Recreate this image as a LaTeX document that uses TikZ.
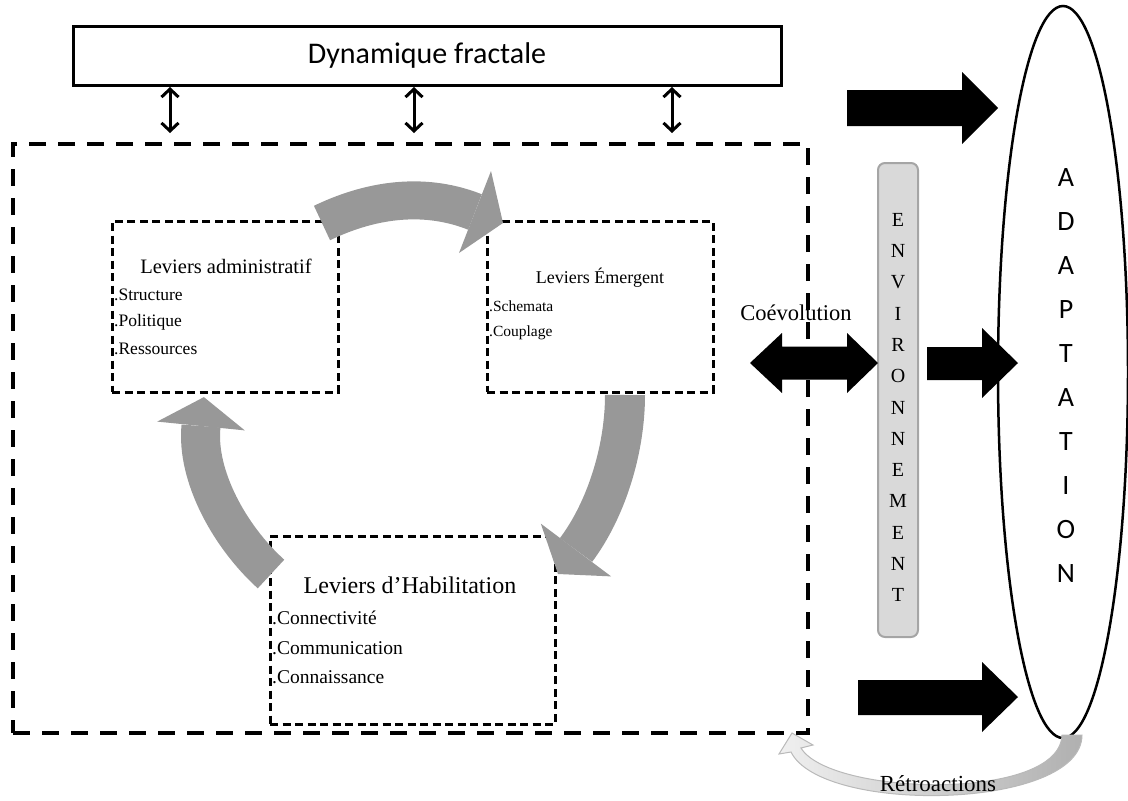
\documentclass[tikz,border=0pt]{standalone}
\usepackage{fontspec}
\setmainfont{Liberation Serif}
\newfontfamily\calibfont{Carlito}
\usetikzlibrary{arrows.meta,shapes.geometric}
\definecolor{bandgray}{RGB}{152,152,152}
\definecolor{envfill}{RGB}{217,217,217}
\definecolor{envdraw}{RGB}{165,165,165}
\newcommand\fsz[1]{\fontsize{#1}{#1}\selectfont}

\begin{document}
\begin{tikzpicture}[x=1pt,y=-1pt,
  outerbox/.style={draw, line width=4.5pt, dash pattern=on 17pt off 12pt,
    inner sep=0pt, minimum width=795pt, minimum height=589pt},
  leverbox/.style={draw, fill=white, line width=3pt, dash pattern=on 8pt off 4.5pt,
    inner sep=0pt},
  fractbox/.style={draw, line width=3pt, inner sep=0pt,
    minimum width=708pt, minimum height=59pt},
  envbox/.style={draw=envdraw, fill=envfill, line width=2pt, rounded corners=7pt,
    inner sep=0pt, minimum width=40pt, minimum height=474pt},
  adaptell/.style={ellipse, draw, line width=2.5pt, inner sep=0pt,
    minimum width=130pt, minimum height=732pt},
  item/.style={anchor=west, inner sep=0pt},
  title/.style={inner sep=0pt},
  letter/.style={inner sep=0pt},
  dblarrow/.style={line width=3pt,
    {Straight Barb[length=8pt,width=17pt]}-{Straight Barb[length=8pt,width=17pt]}},
  band/.style={draw=bandgray, line cap=butt},
  bandhead/.style={fill=bandgray},
  blockarrow/.style={fill=black}
]
\useasboundingbox (0,0) rectangle (1128,801);

% ---- top box and its links
\node[fractbox] (fract) at (427,55.5) {\calibfont\fsz{30}Dynamique fractale};

% ---- organisation frame
\node[outerbox] (outer) at (410.5,438.5) {};

\foreach \xx [count=\i] in {170,414,672}{
  \coordinate (up\i) at (\xx,87);
  \coordinate (dn\i) at (\xx,133);
  \draw[dblarrow] (up\i) -- (dn\i);
}

% ---- the three levers
\node[leverbox, minimum width=226pt, minimum height=171pt] (adm) at (225,306.5) {};
\node[title, font=\fsz{20.5}] (admT) at (226,266) {Leviers administratif};
\node[item, font=\fsz{17.5}] (adm1) at (114,295) {.Structure};
\node[item, font=\fsz{17.5}] (adm2) at (114,322) {.Politique};
\node[item, font=\fsz{17.5}] (adm3) at (114,349) {.Ressources};

\node[leverbox, minimum width=226pt, minimum height=171pt] (emg) at (600,306.5) {};
\node[title, font=\fsz{18}] (emgT) at (600,278) {Leviers Émergent};
\node[item, font=\fsz{15.5}] (emg1) at (489,306) {.Schemata};
\node[item, font=\fsz{15.5}] (emg2) at (489,333) {.Couplage};

\node[leverbox, minimum width=285pt, minimum height=188pt] (hab) at (412.5,630) {};
\node[title, font=\fsz{24}] (habT) at (410,585) {Leviers d’Habilitation};
\node[item, font=\fsz{19.5}] (hab1) at (272,618) {.Connectivité};
\node[item, font=\fsz{19.5}] (hab2) at (272,648) {.Communication};
\node[item, font=\fsz{19.5}] (hab3) at (272,677) {.Connaissance};

% ---- cycle arrows between levers
\draw[band, line width=38pt] (322,223) .. controls (376,197) and (428.5,193.5) .. (475,212);
\fill[bandhead] (459,253) -- (503,223) -- (491,171) -- cycle;

\draw[band, line width=40pt] (625,395) .. controls (625,450) and (606,510) .. (576,550);
\fill[bandhead] (611.2,576.4) -- (558,574) -- (540.8,523.6) -- cycle;

\draw[band, line width=39pt] (271,574) .. controls (230,537) and (196,476) .. (201,426);
\fill[bandhead] (244.8,430.4) -- (203.9,397.1) -- (157.2,421.6) -- cycle;

% ---- environment
\node[envbox] (env) at (898,400) {};
\foreach \l [count=\i] in {E,N,V,I,R,O,N,N,E,M,E,N,T}{
  \node[letter, font=\fsz{20}] (env\i) at (898,{220+31.25*(\i-1)}) {\l};
}

% ---- coevolution
\node[title, font=\fsz{22.5}] (coevo) at (796,313) {Coévolution};
\fill[blockarrow] (750,363) -- (782,333) -- (782,346.5) -- (847,346.5) -- (847,333)
  -- (878,363) -- (847,393) -- (847,379.5) -- (782,379.5) -- (782,393) -- cycle;

% ---- adaptation
\node[adaptell] (adapt) at (1063,372) {};
\foreach \l [count=\i] in {A,D,A,P,T,A,T,I,O,N}{
  \node[letter, font=\calibfont\fsz{28}] (ad\i) at (1066,{178+44*(\i-1)}) {\l};
}

\fill[blockarrow] (847,90) -- (962,90) -- (962,72) -- (998,108) -- (962,144)
  -- (962,126) -- (847,126) -- cycle;
\fill[blockarrow] (927,347) -- (982,347) -- (982,328) -- (1018,363) -- (982,398)
  -- (982,380) -- (927,380) -- cycle;
\fill[blockarrow] (858,680) -- (982,680) -- (982,662) -- (1018,697) -- (982,732)
  -- (982,715) -- (858,715) -- cycle;

% ---- feedback loop
\shadedraw[left color=gray!12, right color=gray!62, draw=gray!55, line width=1pt]
  (1062,735) .. controls (1060,802) and (830,796) .. (801,748)
  -- (813,745) -- (792,733) -- (779,754) -- (791,752)
  .. controls (822,815) and (1082,810) .. (1082,735) -- cycle;
\node[title, font=\fsz{23}] (retro) at (938,784) {Rétroactions};
\end{tikzpicture}
\end{document}
